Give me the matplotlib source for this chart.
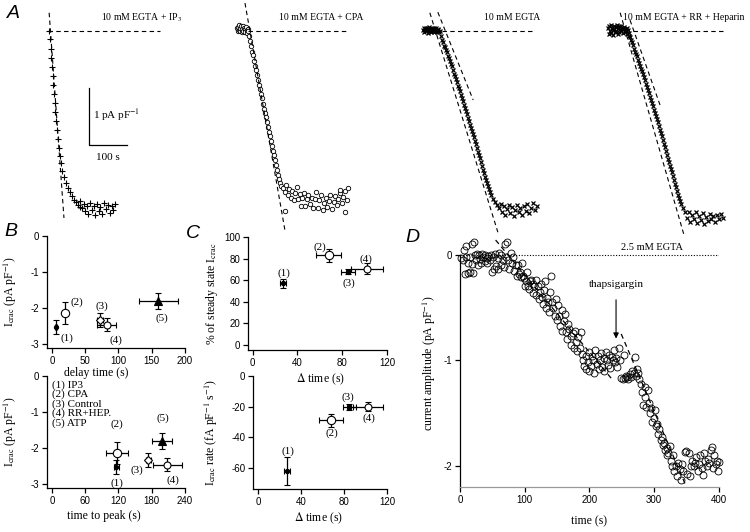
import matplotlib
matplotlib.use('Agg')
import matplotlib.pyplot as plt
import numpy as np

plt.rcParams['font.family'] = ['Liberation Serif', 'DejaVu Serif']
plt.rcParams['mathtext.fontset'] = 'stix'
plt.rcParams['axes.unicode_minus'] = False

# ---------------- data ----------------
# Panel A traces: time (s) from start of each trace, current (pA/pF)
ip3_t = [3, 5, 8, 8, 11, 13, 13, 16, 18, 18, 21, 24, 26, 29, 32, 34, 37, 42, 47, 53, 58, 63, 68, 74, 79, 84,
         84, 89, 95, 97, 103, 105, 110, 116, 121, 124, 129, 134, 137, 142, 147, 153, 158, 163, 168, 171, 176]
ip3_i = [0, -0.14, -0.32, -0.47, -0.63, -0.79, -0.95, -1.1, -1.26, -1.42, -1.58, -1.74, -1.9, -2.05, -2.19, -2.32,
         -2.46, -2.56, -2.67, -2.75, -2.82, -2.89, -2.96, -3.0, -3.05, -3.09,
         -2.98, -3.11, -3.04, -3.16, -3.07, -3.21, -3.02, -3.14, -3.07, -3.23, -3.04, -3.16, -3.09, -3.21, -3.02,
         -3.12, -3.05, -3.19, -3.07, -3.14, -3.04]
ip3_fit_t = [3, 42]
ip3_fit_i = [0.32, -3.28]
ip3_base_t = [0, 295]

cpa_t = [0, 2, 3, 5, 6, 8, 9, 11, 12, 14, 15, 17, 18, 20, 21, 23, 25, 26, 28, 29,
         31, 34, 37, 39, 42, 45, 47, 50, 53, 55, 58, 60, 63, 66, 68, 71, 74, 76, 79, 81, 84, 87, 89, 92, 95, 97,
         100, 102, 105, 108, 110, 113, 116,
         121, 126, 129, 134, 137, 142, 145, 150, 153, 158, 160, 166, 168, 171, 176, 179, 184, 187, 192, 197, 200,
         205, 208, 213, 216, 221, 226, 229, 234, 237, 242, 245, 250, 255, 258, 263, 266, 271, 276, 279, 284, 289,
         292, 270, 284, 126]
cpa_i = [0.05, 0.0, 0.07, 0.02, 0.1, 0.0, 0.05, 0.08, -0.02, 0.04, 0.09, 0.0, 0.06, 0.03, -0.01, 0.07, 0.02,
         -0.03, 0.04, 0.0,
         -0.09, -0.18, -0.27, -0.36, -0.42, -0.52, -0.61, -0.68, -0.77, -0.86, -0.95, -1.02, -1.11, -1.18, -1.28,
         -1.36, -1.44, -1.51, -1.6, -1.68, -1.78, -1.85, -1.93, -2.02, -2.1, -2.18, -2.27, -2.35, -2.43, -2.52,
         -2.6, -2.66, -2.72,
         -2.75, -2.82, -2.7, -2.88, -2.77, -2.93, -2.81, -2.96, -2.84, -2.74, -2.95, -2.86, -3.07, -2.93, -2.84,
         -3.07, -2.95, -2.88, -3.04, -2.93, -3.11, -2.95, -2.83, -3.1, -2.96, -2.88, -3.14, -3.02, -2.93, -3.09,
         -2.98, -2.88, -3.12, -3.0, -2.9, -3.05, -2.95, -2.84, -3.02, -2.91, -2.81, -2.96, -2.76, -2.79, -3.18,
         -3.16]
cpa_fit_t = [21, 126]
cpa_fit_i = [0.49, -3.49]
cpa_base_t = [29, 289]

ctl_t = [0, 2, 3, 5, 7, 8, 10, 12, 13, 15, 17, 18, 20, 22, 24, 25, 27, 29, 30, 32, 34, 35, 37, 39, 40, 42, 44,
         47, 50, 53, 55, 58, 61, 63, 66, 68, 71, 74, 76, 79, 82, 84, 87, 89, 92, 95, 97, 100, 103, 105, 108, 110,
         113, 116, 118, 121, 124, 126, 129, 131, 134, 137, 139, 142, 145, 147, 150, 153, 155, 158, 160, 163, 166,
         168, 171, 174, 176, 179, 184, 189, 195,
         200, 205, 208, 213, 216, 221, 226, 229, 234, 239, 242, 247, 252, 255, 260, 266, 271, 274, 279, 284, 289,
         295, 300]
ctl_i = [0.02, 0.05, -0.02, 0.04, 0.0, 0.06, 0.02, -0.03, 0.05, 0.01, 0.07, 0.0, 0.04, -0.02, 0.05, 0.0, 0.03,
         0.06, -0.01, 0.03, 0.0, 0.05, -0.02, 0.02, 0.04, -0.01, 0.0,
         -0.09, -0.16, -0.19, -0.26, -0.28, -0.33, -0.37, -0.44, -0.47, -0.53, -0.58, -0.62, -0.68, -0.75, -0.79,
         -0.85, -0.89, -0.96, -1.0, -1.05, -1.12, -1.18, -1.23, -1.3, -1.35, -1.41, -1.46, -1.52, -1.58, -1.65,
         -1.7, -1.75, -1.81, -1.86, -1.93, -1.99, -2.05, -2.12, -2.18, -2.23, -2.3, -2.37, -2.44, -2.49, -2.56,
         -2.61, -2.67, -2.72, -2.77, -2.83, -2.88, -2.95, -3.0, -3.05,
         -3.11, -3.04, -3.18, -3.07, -3.23, -3.12, -3.05, -3.19, -3.09, -3.25, -3.14, -3.05, -3.18, -3.11, -3.23,
         -3.07, -3.16, -3.04, -3.19, -3.11, -3.02, -3.14, -3.07]
ctl_fit1_t = [18, 197]
ctl_fit1_i = [0.32, -3.53]
ctl_fit2_t = [39, 132]
ctl_fit2_i = [0.33, -1.21]
ctl_base_t = [50, 295]

rrh_t = [0, 2, 3, 5, 7, 8, 10, 12, 13, 15, 17, 18, 20, 22, 24, 25, 27, 29, 30, 32, 34, 35, 37, 39, 40, 42, 44,
         45, 47, 49, 50, 52, 54, 55, 57,
         61, 64, 66, 69, 71, 74, 76, 79, 82, 84, 87, 89, 92, 95, 97, 100, 103, 105, 108, 110, 113, 116, 118, 121,
         124, 126, 129, 131, 134, 137, 139, 142, 145, 147, 150, 153, 155, 158, 160, 163, 166, 168, 171, 174, 176,
         179, 181, 184, 187, 189, 192, 197, 203,
         208, 213, 216, 221, 226, 231, 234, 239, 245, 250, 252, 258, 263, 268, 271, 276, 281, 287, 292, 297, 302]
rrh_i = [0.05, -0.05, 0.08, 0.0, 0.1, -0.03, 0.06, 0.02, -0.07, 0.09, 0.03, -0.02, 0.07, 0.0, 0.1, -0.05, 0.05,
         0.08, -0.02, 0.04, 0.09, 0.0, 0.06, -0.04, 0.03, 0.07, -0.01, 0.04, 0.0, 0.05, -0.06, 0.02, -0.03, -0.08,
         -0.1,
         -0.16, -0.2, -0.25, -0.31, -0.37, -0.41, -0.44, -0.5, -0.56, -0.62, -0.67, -0.7, -0.75, -0.81, -0.86,
         -0.93, -0.98, -1.03, -1.09, -1.15, -1.21, -1.27, -1.32, -1.38, -1.44, -1.49, -1.54, -1.6, -1.67, -1.73,
         -1.79, -1.85, -1.91, -1.98, -2.04, -2.11, -2.18, -2.24, -2.3, -2.36, -2.42, -2.48, -2.54, -2.61, -2.68,
         -2.74, -2.81, -2.87, -2.93, -2.98, -3.04, -3.11, -3.18,
         -3.28, -3.18, -3.35, -3.23, -3.3, -3.18, -3.37, -3.25, -3.32, -3.19, -3.39, -3.26, -3.33, -3.21, -3.3,
         -3.25, -3.35, -3.23, -3.3, -3.21, -3.28]
rrh_fit1_t = [32, 200]
rrh_fit1_i = [0.32, -3.58]
rrh_fit2_t = [58, 137]
rrh_fit2_i = [0.19, -1.3]
rrh_base_t = [66, 302]

trace_labels = ['10 mM EGTA + IP$_3$', '10 mM EGTA + CPA', '10 mM EGTA', '10 mM EGTA + RR + Heparin']

# Panels B and C: groups (1)..(5)
group_labels = ['(1)', '(2)', '(3)', '(4)', '(5)']
legend_lines = ['(1) IP3', '(2) CPA', '(3) Control', '(4) RR+HEP.', '(5) ATP']
delay_time = [6, 20, 72, 82, 160]
delay_err = [2, 2, 4, 15, 29]
time_to_peak = [116, 118, 174, 208, 198]
peak_err = [5, 20, 5, 26, 18]
icrac = [-2.53, -2.13, -2.33, -2.47, -1.8]
icrac_err = [0.2, 0.3, 0.2, 0.18, 0.23]

delta_time = [27, 68, 85, 102]
delta_err = [3, 11, 6, 14]
pct_steady = [57, 83, 68, 70.5]
pct_err = [4, 6, 2, 5]
rate = [-61.7, -28.7, -20, -20]
rate_err = [9, 4.3, 2, 3]

# Panel D: 2.5 mM EGTA + thapsigargin
d_time = [2, 4, 6, 7, 9, 10, 12, 13, 15, 16, 18, 19, 20, 22, 23, 25, 26, 28, 30, 31, 33, 34, 36, 38, 39, 41,
          42, 44, 46, 48, 49, 51, 52, 54, 56, 58, 59, 61, 63, 64, 66, 68, 70, 71, 72, 74, 76, 78, 80, 82, 84,
          86, 88, 89, 91, 92, 94, 96, 97, 99, 100, 102, 104, 105, 107, 108, 110, 112, 113, 115, 117, 118, 120,
          122, 123, 125, 126, 128, 130, 131, 133, 134, 136, 138, 139, 141, 142, 144, 146, 148, 150, 151, 153, 155,
          157, 158, 160, 162, 164, 165, 167, 169, 171, 172, 174, 176, 178, 179, 181, 183, 185, 187, 189, 190,
          192, 194, 195, 197, 199, 200, 202, 204, 206, 207, 209, 211, 213, 214, 216, 218, 220, 222, 223, 225,
          227, 229, 230, 232, 234, 236, 238, 240, 241, 243, 245, 247, 249, 251, 253, 255, 257, 258, 260, 262,
          264, 266, 268, 270, 272, 273,
          275, 277, 279, 281, 283, 285, 286, 288, 290, 292, 294, 295, 297, 299, 301, 303, 305, 306, 308, 310,
          312, 313, 315, 317, 319, 320, 322, 324, 326, 327, 329, 331, 333, 335, 337, 339, 341, 343, 345,
          347, 349, 351, 353, 355, 357, 359, 361, 363, 365, 367, 369, 371, 373, 375, 377, 379, 381, 383, 385,
          387, 389, 391, 393, 395, 397, 399, 400]
d_curr = [-0.03, -0.05, 0.05, -0.18, 0.08, -0.02, -0.17, -0.08, -0.02, -0.16, 0.1, -0.09, -0.17, 0.12, 0.0,
          -0.05, 0.01, -0.1, 0.0, -0.04, -0.08, 0.01, -0.02, -0.06, 0.0, -0.03, -0.08, -0.01, -0.05, 0.0, -0.16,
          -0.02, -0.13, 0.01, -0.11, -0.03, -0.13, 0.02, -0.1, 0.0, -0.05, -0.12, 0.1, -0.02, 0.12, -0.05, -0.13,
          0.02, -0.08, -0.02, -0.15,
          -0.1, -0.2, -0.1, -0.18, -0.16, -0.21, -0.08, -0.2, -0.22, -0.3, -0.25, -0.16, -0.3, -0.32, -0.25,
          -0.24, -0.36, -0.28, -0.3, -0.38, -0.24, -0.3, -0.42, -0.35, -0.28, -0.4, -0.47, -0.33, -0.25, -0.5,
          -0.41, -0.45, -0.54, -0.35, -0.2, -0.45, -0.5, -0.58, -0.42, -0.62, -0.48, -0.58, -0.67, -0.52, -0.72,
          -0.63, -0.56, -0.73, -0.8, -0.66, -0.7, -0.85, -0.77, -0.74, -0.88, -0.72, -0.83, -0.91, -0.78, -0.88,
          -0.73, -0.94, -1.0,
          -1.05, -0.96, -1.08, -1.02, -0.92, -1.1, -1.05, -0.96, -1.0, -1.12, -0.9, -1.03, -0.96, -1.08, -1.0,
          -0.93, -1.06, -0.98, -1.1, -0.92, -1.0, -1.04, -0.95, -1.07, -0.97, -1.0, -0.9, -1.02, -0.98, -1.06,
          -0.88, -1.0, -1.17, -1.18, -0.95, -1.17, -1.15, -1.16, -1.18, -1.13, -1.16, -1.1, -1.12, -0.97, -1.15,
          -1.08,
          -1.12, -1.18, -1.22, -1.3, -1.42, -1.25, -1.35, -1.44, -1.28, -1.4, -1.5, -1.45, -1.58, -1.55, -1.47,
          -1.62, -1.6, -1.7, -1.65, -1.75, -1.73, -1.8, -1.78, -1.85, -1.83, -1.9, -1.88, -1.81, -1.95, -2.0,
          -1.9, -2.05, -2.0, -2.1, -1.97, -2.03, -2.13, -1.98, -2.05,
          -1.87, -1.86, -2.08, -1.88, -2.1, -2.0, -1.95, -2.0, -1.97, -1.92, -2.05, -1.98, -1.9, -2.02, -2.09,
          -1.88, -1.95, -2.0, -1.93, -1.97, -1.85, -1.82, -2.02, -1.9, -1.98, -1.95, -2.05, -1.96]
d_fit1_t = [55, 235]
d_fit1_i = [0.14, -1.18]
d_fit2_t = [249, 349]
d_fit2_i = [-0.75, -2.19]
thaps_time = 241

# ---------------- layout helpers ----------------
W, H = 750, 532
fig = plt.figure(figsize=(7.5, 5.32), dpi=100)


def box(x0, y0, x1, y1):
    return [x0 / W, 1 - y1 / H, (x1 - x0) / W, (y1 - y0) / H]


def fxy(px, py):
    return px / W, 1 - py / H


SANS = ['Liberation Sans', 'DejaVu Sans']
DASH = (0, (4, 3))

# ---------------- panel A ----------------
S_PER_PX = 100 / 38.0
PA_PER_PX = 1 / 57.0
axA = fig.add_axes(box(0, 0, 750, 240))
axA.set_xlim(0, 750 * S_PER_PX)
axA.set_ylim(-(240 - 31) * PA_PER_PX, 31 * PA_PER_PX)
axA.axis('off')

trace_x0 = [48, 237, 423, 608]
offs = [x * S_PER_PX for x in trace_x0]

o = offs[0]
axA.plot(np.array(ip3_t) + o, ip3_i, ls='none', marker='+', ms=4, mew=0.8, color='k')
axA.plot(np.array(ip3_fit_t) + o, ip3_fit_i, ls=DASH, lw=0.8, color='k')
axA.plot(np.array(ip3_base_t) + o, [0, 0], ls=DASH, lw=0.8, color='k')

o = offs[1]
axA.plot(np.array(cpa_t) + o, cpa_i, ls='none', marker='o', ms=3.2, mfc='white', mec='k', mew=0.6)
axA.plot(np.array(cpa_fit_t) + o, cpa_fit_i, ls=DASH, lw=0.8, color='k')
axA.plot(np.array(cpa_base_t) + o, [0, 0], ls=DASH, lw=0.8, color='k')

o = offs[2]
axA.plot(np.array(ctl_t) + o, ctl_i, ls='none', marker='x', ms=3, mew=0.9, color='k')
axA.plot(np.array(ctl_fit1_t) + o, ctl_fit1_i, ls=DASH, lw=0.8, color='k')
axA.plot(np.array(ctl_fit2_t) + o, ctl_fit2_i, ls=DASH, lw=0.8, color='k')
axA.plot(np.array(ctl_base_t) + o, [0, 0], ls=DASH, lw=0.8, color='k')

o = offs[3]
axA.plot(np.array(rrh_t) + o, rrh_i, ls='none', marker='x', ms=3, mew=0.9, color='k')
axA.plot(np.array(rrh_fit1_t) + o, rrh_fit1_i, ls=DASH, lw=0.8, color='k')
axA.plot(np.array(rrh_fit2_t) + o, rrh_fit2_i, ls=DASH, lw=0.8, color='k')
axA.plot(np.array(rrh_base_t) + o, [0, 0], ls=DASH, lw=0.8, color='k')

# scale bar: 1 pA/pF and 100 s
sb_x = 89 * S_PER_PX
axA.plot([sb_x, sb_x, sb_x + 100], [-1, -2, -2], color='k', lw=0.9)
fig.text(*fxy(93, 115), '1 pA pF$^{-1}$', fontsize=8, ha='left', va='center')
fig.text(*fxy(108, 157), '100 s', fontsize=8, ha='center', va='center')

label_pos = [(141, 18), (321, 17), (512, 17), (684, 18)]
for (px, py), lab in zip(label_pos, trace_labels):
    fig.text(*fxy(px, py), lab, fontsize=7, ha='center', va='center')

# ---------------- styling helper ----------------
def style(ax):
    ax.patch.set_visible(False)
    for s in ['top', 'right']:
        ax.spines[s].set_visible(False)
    for s in ['left', 'bottom']:
        ax.spines[s].set_linewidth(0.9)
    ax.tick_params(direction='out', length=3.5, width=0.9, labelsize=7, pad=2)
    for lab in ax.get_xticklabels() + ax.get_yticklabels():
        lab.set_family(SANS)


markers_B = [dict(fmt='o', ms=3, mfc='k'),
             dict(fmt='o', ms=6, mfc='white'),
             dict(fmt='D', ms=4, mfc='white'),
             dict(fmt='o', ms=5, mfc='white'),
             dict(fmt='^', ms=6, mfc='k')]
markers_C = [dict(fmt='o', ms=3, mfc='k'),
             dict(fmt='o', ms=6, mfc='white'),
             dict(fmt='s', ms=3, mfc='k'),
             dict(fmt='o', ms=5, mfc='white')]


def errpts(ax, xs, ys, xe, ye, mk):
    for x, y, a, b, m in zip(xs, ys, xe, ye, mk):
        ax.errorbar(x, y, xerr=a, yerr=b, fmt=m['fmt'], ms=m['ms'], mfc=m['mfc'], mec='k', mew=0.8,
                    ecolor='k', elinewidth=0.9, capsize=2, capthick=0.9, clip_on=False)


# ---------------- panel B top ----------------
axB1 = fig.add_axes(box(47, 236, 185, 348))
axB1.set_xlim(-7.5, 200)
axB1.set_ylim(-3.11, 0)
axB1.set_xticks([0, 50, 100, 150, 200])
axB1.set_yticks([0, -1, -2, -3])
style(axB1)
errpts(axB1, delay_time, icrac, delay_err, icrac_err, markers_B)
for lab, (x, y) in zip(group_labels, [(22, -2.83), (37, -1.83), (75, -1.94), (96, -2.89), (165, -2.28)]):
    axB1.text(x, y, lab, fontsize=8, ha='center', va='center')
axB1.set_ylabel('I$_{\\rm crac}$ (pA pF$^{-1}$)', fontsize=8.5)
axB1.yaxis.set_label_coords(-0.2, 0.5)
axB1.set_xlabel('delay time (s)', fontsize=8.5)
axB1.xaxis.set_label_coords(0.36, -0.17)

# ---------------- panel B bottom ----------------
axB2 = fig.add_axes(box(47, 376, 185, 488))
axB2.set_xlim(-9, 240)
axB2.set_ylim(-3.11, 0)
axB2.set_xticks([0, 60, 120, 180, 240])
axB2.set_yticks([0, -1, -2, -3])
style(axB2)
errpts(axB2, time_to_peak, icrac, peak_err, icrac_err, markers_B)
for lab, (x, y) in zip(group_labels, [(117, -2.97), (117, -1.33), (153, -2.61), (218, -2.89), (200, -1.17)]):
    axB2.text(x, y, lab, fontsize=8, ha='center', va='center')
for k, line in enumerate(legend_lines):
    fig.text(*fxy(52, 385 + 9.5 * k), line, fontsize=8, ha='left', va='center')
axB2.set_ylabel('I$_{\\rm crac}$ (pA pF$^{-1}$)', fontsize=8.5)
axB2.yaxis.set_label_coords(-0.2, 0.5)
axB2.set_xlabel('time to peak (s)', fontsize=8.5)
axB2.xaxis.set_label_coords(0.41, -0.2)

# ---------------- panel C top ----------------
axC1 = fig.add_axes(box(248, 237, 387, 350))
axC1.set_xlim(-4.2, 119.5)
axC1.set_ylim(-4.6, 100)
axC1.set_xticks([0, 40, 80, 120])
axC1.set_yticks([0, 20, 40, 60, 80, 100])
style(axC1)
errpts(axC1, delta_time, pct_steady, delta_err, pct_err, markers_C)
for lab, (x, y) in zip(group_labels, [(28, 66.7), (60, 90.7), (85.6, 57.4), (101.6, 79.6)]):
    axC1.text(x, y, lab, fontsize=8, ha='center', va='center')
axC1.set_ylabel('% of steady state I$_{\\rm crac}$', fontsize=8.5)
axC1.yaxis.set_label_coords(-0.2, 0.5)
axC1.set_xlabel('$\\Delta$ time (s)', fontsize=8.5)
axC1.xaxis.set_label_coords(0.52, -0.19)

# ---------------- panel C bottom ----------------
axC2 = fig.add_axes(box(253, 376, 387, 489))
axC2.set_xlim(-4.6, 120)
axC2.set_ylim(-73.5, 0)
axC2.set_xticks([0, 40, 80, 120])
axC2.set_yticks([0, -20, -40, -60])
style(axC2)
errpts(axC2, delta_time, rate, delta_err, rate_err, markers_C)
for lab, (x, y) in zip(group_labels, [(28, -48.8), (68.7, -37), (83.5, -13.7), (103, -27.3)]):
    axC2.text(x, y, lab, fontsize=8, ha='center', va='center')
axC2.set_ylabel('I$_{\\rm crac}$ rate (fA pF$^{-1}$ s$^{-1}$)', fontsize=8.5)
axC2.yaxis.set_label_coords(-0.25, 0.5)
axC2.set_xlabel('$\\Delta$ time (s)', fontsize=8.5)
axC2.xaxis.set_label_coords(0.49, -0.19)

# ---------------- panel D ----------------
axD = fig.add_axes(box(460, 239, 719, 487))
axD.set_xlim(0, 400)
axD.set_ylim(-2.2, 0.15)
axD.set_xticks([0, 100, 200, 300, 400])
axD.set_yticks([0, -1, -2])
style(axD)
axD.spines['left'].set_bounds(-2.2, 0)
axD.spines['bottom'].set_color('0.6')
axD.plot([0, 400], [0, 0], ls=(0, (1, 1.5)), color='k', lw=0.8)
axD.plot(d_time, d_curr, ls='none', marker='o', ms=5, mfc='none', mec='k', mew=0.6, clip_on=False)
axD.plot(d_fit1_t, d_fit1_i, ls=DASH, lw=0.9, color='k', clip_on=False)
axD.plot(d_fit2_t, d_fit2_i, ls=DASH, lw=0.9, color='k', clip_on=False)
axD.text(297, 0.07, '2.5 mM EGTA', fontsize=7.5, ha='center', va='center')
axD.text(thaps_time, -0.28, 'thapsigargin', fontsize=8, ha='center', va='center')
axD.annotate('', xy=(thaps_time, -0.82), xytext=(thaps_time, -0.4),
             arrowprops=dict(arrowstyle='-|>', lw=0.8, color='k', mutation_scale=8))
axD.set_ylabel('current amplitude (pA pF$^{-1}$)', fontsize=8.5)
axD.yaxis.set_label_coords(-0.085, 0.5)
axD.set_xlabel('time (s)', fontsize=8.5)
axD.xaxis.set_label_coords(0.5, -0.113)

# panel letters
for lab, (px, py) in zip(['A', 'B', 'C', 'D'], [(13, 13), (11, 231), (193, 233), (412, 237)]):
    fig.text(*fxy(px, py), lab, fontsize=14, style='italic', family=SANS, ha='center', va='center')

fig.savefig('out.png', dpi=100)
